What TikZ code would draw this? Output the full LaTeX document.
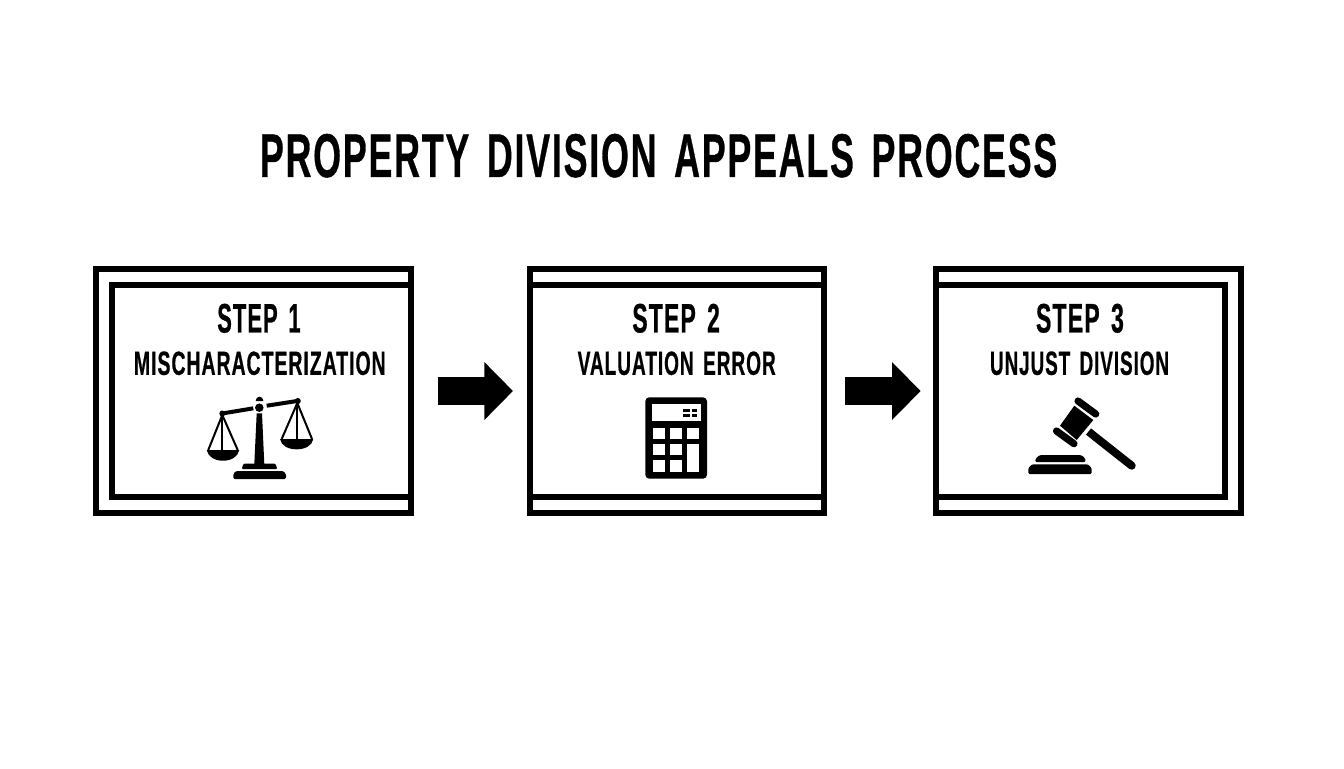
\documentclass[tikz,border=0pt]{standalone}
\usepackage{graphicx}
\usepackage{fontspec}
\setmainfont[LetterSpace=5,WordSpace=1.5,BoldFeatures={FakeBold=0.8}]{Liberation Sans}
\usetikzlibrary{arrows.meta}
\newlength\px \setlength\px{0.75pt}
\newcommand\fittext[3]{\resizebox{#1\px}{#2\px}{\textbf{#3}}}
\tikzset{
  x=0.75pt,y=-0.75pt,
  stepbox/.style={draw=black,line width=4.5pt,fill=white,inner sep=0pt,minimum height=183pt},
  innerline/.style={draw=black,line width=4.5pt,line cap=butt},
  blockarrow/.style={draw=black,line width=20.8pt,
    -{Triangle[length=21.4pt,width=42pt]}},
  label/.style={inner sep=0pt,text=black},
  ink/.style={fill=black,draw=none},
  cord/.style={draw=black,line width=1.5pt},
}
\begin{document}
\begin{tikzpicture}
\useasboundingbox (0,0) rectangle (1344,768);
\fill[white] (0,0) rectangle (1344,768);

\node[label] (title) at (659.5,155.7) {\fittext{799}{43}{PROPERTY DIVISION APPEALS PROCESS}};

\node[stepbox,minimum width=236.25pt] (b1) at (253,391) {};
\node[stepbox,minimum width=220.3pt] (b2) at (676.85,391) {};
\node[stepbox,minimum width=228.5pt] (b3) at (1088.65,391) {};

% inner frames
\draw[innerline] (410.5,284.7) -- (112,284.7) -- (112,497) -- (410.5,497);
\draw[innerline] (530,284.7) -- (823.7,284.7);
\draw[innerline] (530,497) -- (823.7,497);
\draw[innerline] (936.3,284.7) -- (1225,284.7) -- (1225,497) -- (936.3,497);

% connectors
\draw[blockarrow,shorten <=18pt,shorten >=10.5pt] (b1.east) -- (b2.west);
\draw[blockarrow,shorten <=13.5pt,shorten >=9.5pt] (b2.east) -- (b3.west);

% texts
\node[label] (s1) at (259.5,318.3) {\fittext{84.4}{28.7}{STEP 1}};
\node[label] (t1) at (260.3,363.3) {\fittext{252.7}{23.3}{MISCHARACTERIZATION}};
\node[label] (s2) at (676.7,318.3) {\fittext{88.7}{28.7}{STEP 2}};
\node[label] (t2) at (677.2,363.3) {\fittext{199}{23.3}{VALUATION ERROR}};
\node[label] (s3) at (1080.5,318.3) {\fittext{89}{28.7}{STEP 3}};
\node[label] (t3) at (1080,363.3) {\fittext{180}{23.3}{UNJUST DIVISION}};

% scales icon
\fill[ink,rounded corners=1pt] (233.3,479) -- (233.3,474) -- (236,471) -- (283.3,471) -- (286,474) -- (286,479) -- cycle;
\fill[ink,rounded corners=0.8pt] (241.7,469) -- (243.5,463.7) -- (275.5,463.7) -- (277.3,469) -- cycle;
\fill[ink] (254.3,464) -- (256.7,413.3) -- (262,413.3) -- (264.3,464) -- cycle;
\fill[ink] (259.3,407.7) circle[radius=3.2pt];
\fill[ink] (255.7,401) .. controls (256.2,397.8) and (257.8,396.7) .. (259.5,396.7) .. controls (261.2,396.7) and (262.8,397.8) .. (263.3,401) -- cycle;
\draw[draw=black,line width=3pt] (222.3,413.5) -- (253.3,408.3);
\draw[draw=black,line width=3pt] (266.7,405.7) -- (298.3,400.8);
\fill[ink] (222.3,413.5) circle[radius=2.25pt];
\fill[ink] (297.8,401) circle[radius=2.25pt];
\draw[cord] (222.3,415) -- (208.3,450);
\draw[cord] (222.3,415) -- (237.7,450);
\draw[cord] (222.3,415) -- (222.3,450);
\fill[ink] (206.7,450) .. controls (208,457) and (215,460.7) .. (223,460.7) .. controls (231,460.7) and (238,457) .. (239.3,450) -- cycle;
\draw[cord] (297.3,403) -- (281.7,439);
\draw[cord] (297.3,403) -- (312,439);
\draw[cord] (297.3,403) -- (297.3,439);
\fill[ink] (280,439) .. controls (281.3,446) and (288.5,449.3) .. (296.6,449.3) .. controls (304.7,449.3) and (312,446) .. (313.3,439) -- cycle;

% calculator icon
\fill[ink,rounded corners=3pt] (645.3,397.3) rectangle (707,478.7);
\fill[white] (651.7,404.3) rectangle (700.7,420.7);
\foreach \xa/\xb/\ya/\yb in {653.3/664.7/428/439,670.3/681.7/428/439,687.3/699.3/428/439,
  653.3/664.7/444.3/455.3,670.3/681.7/444.3/455.3,687.3/699.3/444.3/471.7,
  653.3/664.7/460.3/471.7,670.3/681.7/460.3/471.7}
  \fill[white] (\xa,\ya) rectangle (\xb,\yb);
\foreach \xa/\xb/\ya/\yb in {683.3/690/409.3/412.4,683.3/690/413.6/416.7,691.5/697.3/409.3/412.4,691.5/697.3/413.6/416.7}
  \fill[ink] (\xa,\ya) rectangle (\xb,\yb);

% gavel icon
\draw[draw=black,line width=6pt,line cap=round] (1131.7,465.7) -- (1096,437.5);
\draw[draw=black,line width=6pt] (1096,437.5) -- (1088.5,431.5);
\fill[ink] (1074.3,405.7) -- (1093.3,420) -- (1076.7,440) -- (1060,425.7) -- cycle;
\draw[draw=black,line width=5.4pt,line cap=round] (1078,401) -- (1095.7,414);
\draw[draw=black,line width=5.4pt,line cap=round] (1056.5,431) -- (1074,443.7);
\fill[ink,rounded corners=1pt] (1035,462) -- (1036,458) -- (1040,455) -- (1081,455) -- (1085,458) -- (1085.7,462) -- cycle;
\fill[ink,rounded corners=1pt] (1028.3,474) -- (1028.3,468) -- (1032,464.3) -- (1088,464.3) -- (1091.7,468) -- (1091.7,474) -- cycle;
\end{tikzpicture}
\end{document}
